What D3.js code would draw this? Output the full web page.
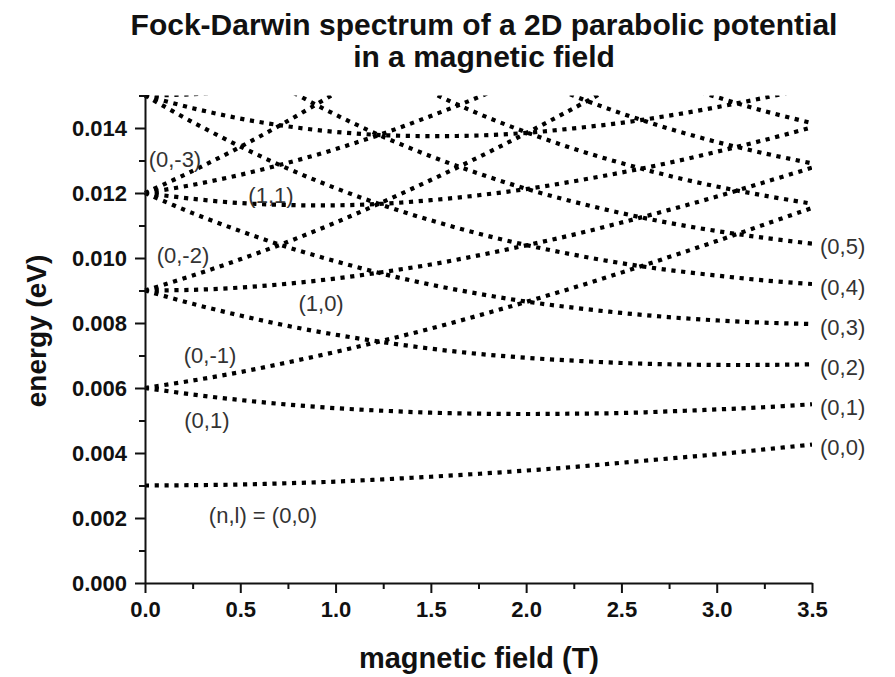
<!DOCTYPE html>
<html>
<head>
<meta charset="utf-8">
<script src="https://cdn.jsdelivr.net/npm/d3@7/dist/d3.min.js"></script>
<style>
  html, body { margin: 0; padding: 0; background: #fff; }
  svg { display: block; font-family: "Liberation Sans", Arial, Helvetica, sans-serif; }
</style>
</head>
<body>
<svg id="chart" width="895" height="677"></svg>
<script>
// Magnetic field samples (T)
const fieldT = [0, 0.25, 0.5, 0.75, 1, 1.25, 1.5, 1.75, 2, 2.25, 2.5, 2.75, 3, 3.25, 3.5];

// Level energies in meV for each (n,l); a list ends once the level has left the plotted range
const level_0_0  = [3.00, 3.01, 3.03, 3.07, 3.12, 3.19, 3.27, 3.36, 3.46, 3.57, 3.70, 3.83, 3.96, 4.11, 4.26];
const level_0_1  = [6.00, 5.80, 5.63, 5.49, 5.38, 5.30, 5.24, 5.21, 5.20, 5.21, 5.23, 5.28, 5.34, 5.41, 5.50];
const level_0_m1 = [6.00, 6.23, 6.49, 6.79, 7.11, 7.46, 7.83, 8.23, 8.65, 9.09, 9.55, 10.03, 10.52, 11.03, 11.54];
const level_1_0  = [9.00, 9.02, 9.09, 9.21, 9.37, 9.57, 9.80, 10.08, 10.39, 10.72, 11.09, 11.48, 11.89, 12.33, 12.78];
const level_0_2  = [9.00, 8.59, 8.23, 7.91, 7.64, 7.41, 7.21, 7.05, 6.93, 6.84, 6.77, 6.73, 6.71, 6.71, 6.73];
const level_0_m2 = [9.00, 9.46, 9.96, 10.50, 11.09, 11.73, 12.40, 13.10, 13.84, 14.61, 15.41];
const level_1_1  = [12.00, 11.82, 11.69, 11.63, 11.62, 11.67, 11.78, 11.93, 12.12, 12.36, 12.63, 12.93, 13.27, 13.63, 14.02];
const level_1_m1 = [12.00, 12.25, 12.56, 12.93, 13.35, 13.83, 14.37, 14.95, 15.58];
const level_0_3  = [12.00, 11.38, 10.83, 10.33, 9.90, 9.51, 9.18, 8.90, 8.66, 8.47, 8.31, 8.18, 8.08, 8.01, 7.97];
const level_0_m3 = [12.00, 12.68, 13.42, 14.22, 15.08];
const level_0_4  = [15.00, 14.18, 13.43, 12.75, 12.15, 11.62, 11.16, 10.75, 10.40, 10.10, 9.84, 9.63, 9.46, 9.31, 9.20];
const level_1_2  = [15.00, 14.61, 14.29, 14.05, 13.88, 13.78, 13.75, 13.77, 13.85, 13.99, 14.16, 14.38, 14.64, 14.93, 15.25];
const level_2_0  = [15.00, 15.04, 15.16];
const level_1_m2 = [15.00, 15.47];
const level_0_m4 = [15.00, 15.90];
const level_0_5  = [18.00, 16.97, 16.03, 15.18, 14.41, 13.73, 13.13, 12.60, 12.13, 11.73, 11.38, 11.08, 10.83, 10.62, 10.44];
const level_0_6  = [21.00, 19.76, 18.63, 17.60, 16.67, 15.84, 15.10, 14.44, 13.87, 13.36, 12.92, 12.53, 12.20, 11.92, 11.67];
const level_0_7  = [24.00, 22.55, 21.22, 20.02, 18.93, 17.95, 17.07, 16.29, 15.60, 14.99, 14.45, 13.98, 13.57, 13.22, 12.91];
const level_0_8  = [27.00, 25.34, 23.82, 22.44, 21.19, 20.06, 19.04, 18.14, 17.34, 16.62, 15.99, 15.43, 14.95, 14.52, 14.15];

const levels = [
  { name: "(0,0)",  meV: level_0_0 },  { name: "(0,1)",  meV: level_0_1 },
  { name: "(0,-1)", meV: level_0_m1 }, { name: "(1,0)",  meV: level_1_0 },
  { name: "(0,2)",  meV: level_0_2 },  { name: "(0,-2)", meV: level_0_m2 },
  { name: "(1,1)",  meV: level_1_1 },  { name: "(1,-1)", meV: level_1_m1 },
  { name: "(0,3)",  meV: level_0_3 },  { name: "(0,-3)", meV: level_0_m3 },
  { name: "(0,4)",  meV: level_0_4 },  { name: "(1,2)",  meV: level_1_2 },
  { name: "(2,0)",  meV: level_2_0 },  { name: "(1,-2)", meV: level_1_m2 },
  { name: "(0,-4)", meV: level_0_m4 }, { name: "(0,5)",  meV: level_0_5 },
  { name: "(0,6)",  meV: level_0_6 },  { name: "(0,7)",  meV: level_0_7 },
  { name: "(0,8)",  meV: level_0_8 }
];

// Labels written inside the plot, anchored at (field T, energy meV)
const tagText   = ["(0,-3)", "(1,1)", "(0,-2)", "(1,0)", "(0,-1)", "(0,1)", "(n,l) = (0,0)"];
const tagField  = [0.157, 0.661, 0.199, 0.924, 0.341, 0.325, 0.619];
const tagEnergy = [13.05, 11.94, 10.09, 8.62, 7.02, 5.02, 2.09];

// Levels labelled at the right-hand end of the field range
const endTags = ["(0,0)", "(0,1)", "(0,2)", "(0,3)", "(0,4)", "(0,5)"];

// Axis ticks
const xMajor = [0, 0.5, 1, 1.5, 2, 2.5, 3, 3.5];
const xMinor = [0.25, 0.75, 1.25, 1.75, 2.25, 2.75, 3.25];
const yMajor = [0, 0.002, 0.004, 0.006, 0.008, 0.010, 0.012, 0.014];
const yMinor = [0.001, 0.003, 0.005, 0.007, 0.009, 0.011, 0.013, 0.015];

const svg = d3.select("#chart");
const plotLeft = 145, plotRight = 812, plotTop = 95.5, plotBottom = 583;

const x = d3.scaleLinear().domain([0, 3.5]).range([plotLeft, plotRight]);
const y = d3.scaleLinear().domain([0, 0.015]).range([plotBottom, plotTop]);
const eV = meV => meV / 1000;

// Title
const title = svg.append("text")
  .attr("text-anchor", "middle")
  .attr("font-weight", "bold")
  .attr("font-size", 30)
  .attr("fill", "#111");
title.append("tspan").attr("x", 484).attr("y", 35).text("Fock-Darwin spectrum of a 2D parabolic potential");
title.append("tspan").attr("x", 484).attr("y", 67).text("in a magnetic field");

// Plot clip
svg.append("clipPath").attr("id", "plot-clip")
  .append("rect")
  .attr("x", plotLeft - 3).attr("y", plotTop)
  .attr("width", plotRight - plotLeft + 3).attr("height", plotBottom - plotTop);

const line = d3.line()
  .x((d, i) => x(fieldT[i]))
  .y(d => y(eV(d)))
  .curve(d3.curveCatmullRom.alpha(0.5));

// Dotted level curves
svg.append("g").attr("clip-path", "url(#plot-clip)")
  .selectAll("path")
  .data(levels)
  .join("path")
  .attr("d", d => line(d.meV))
  .attr("fill", "none")
  .attr("stroke", "#000")
  .attr("stroke-width", 4.2)
  .attr("stroke-dasharray", "4.2 5.6");

// Axes
function styleAxis(g) {
  g.select(".domain").attr("stroke", "#111").attr("stroke-width", 2);
  g.selectAll(".tick line").attr("stroke", "#111").attr("stroke-width", 2);
  g.selectAll(".tick text")
    .attr("fill", "#111")
    .attr("font-size", 22)
    .attr("font-weight", "bold")
    .attr("font-family", "Liberation Sans, Arial, sans-serif");
}

svg.append("g").attr("transform", `translate(0,${plotBottom})`)
  .call(d3.axisBottom(x).tickValues(xMinor).tickSize(6).tickSizeOuter(0).tickFormat(""))
  .call(g => g.select(".domain").remove())
  .call(styleAxis);
svg.append("g").attr("transform", `translate(${plotLeft},0)`)
  .call(d3.axisLeft(y).tickValues(yMinor).tickSize(6).tickSizeOuter(0).tickFormat(""))
  .call(g => g.select(".domain").remove())
  .call(styleAxis);

svg.append("g").attr("transform", `translate(0,${plotBottom})`)
  .call(d3.axisBottom(x).tickValues(xMajor).tickSize(10).tickSizeOuter(0).tickPadding(8)
    .tickFormat(d3.format(".1f")))
  .call(styleAxis);
svg.append("g").attr("transform", `translate(${plotLeft},0)`)
  .call(d3.axisLeft(y).tickValues(yMajor).tickSize(10).tickSizeOuter(0).tickPadding(8)
    .tickFormat(d3.format(".3f")))
  .call(styleAxis);

// Axis titles
svg.append("text")
  .attr("x", 479).attr("y", 668)
  .attr("text-anchor", "middle")
  .attr("font-weight", "bold").attr("font-size", 29).attr("fill", "#111")
  .text("magnetic field (T)");
svg.append("text")
  .attr("transform", "translate(46,331) rotate(-90)")
  .attr("text-anchor", "middle")
  .attr("font-weight", "bold").attr("font-size", 28).attr("fill", "#111")
  .text("energy (eV)");

// Level labels inside the plot
svg.append("g").selectAll("text")
  .data(tagText)
  .join("text")
  .attr("x", (d, i) => x(tagField[i]))
  .attr("y", (d, i) => y(eV(tagEnergy[i])))
  .attr("dy", "0.35em")
  .attr("text-anchor", "middle")
  .attr("font-size", 22)
  .attr("fill", "#333")
  .text(d => d);

// Labels at the right end of the (0,l) levels
const endLevels = endTags.map(t => levels.find(l => l.name === t));
svg.append("g").selectAll("text")
  .data(endLevels)
  .join("text")
  .attr("x", x(3.5) + 8)
  .attr("y", d => y(eV(d.meV[d.meV.length - 1])) + 3)
  .attr("dy", "0.35em")
  .attr("font-size", 22)
  .attr("fill", "#333")
  .text(d => d.name);
</script>
</body>
</html>
